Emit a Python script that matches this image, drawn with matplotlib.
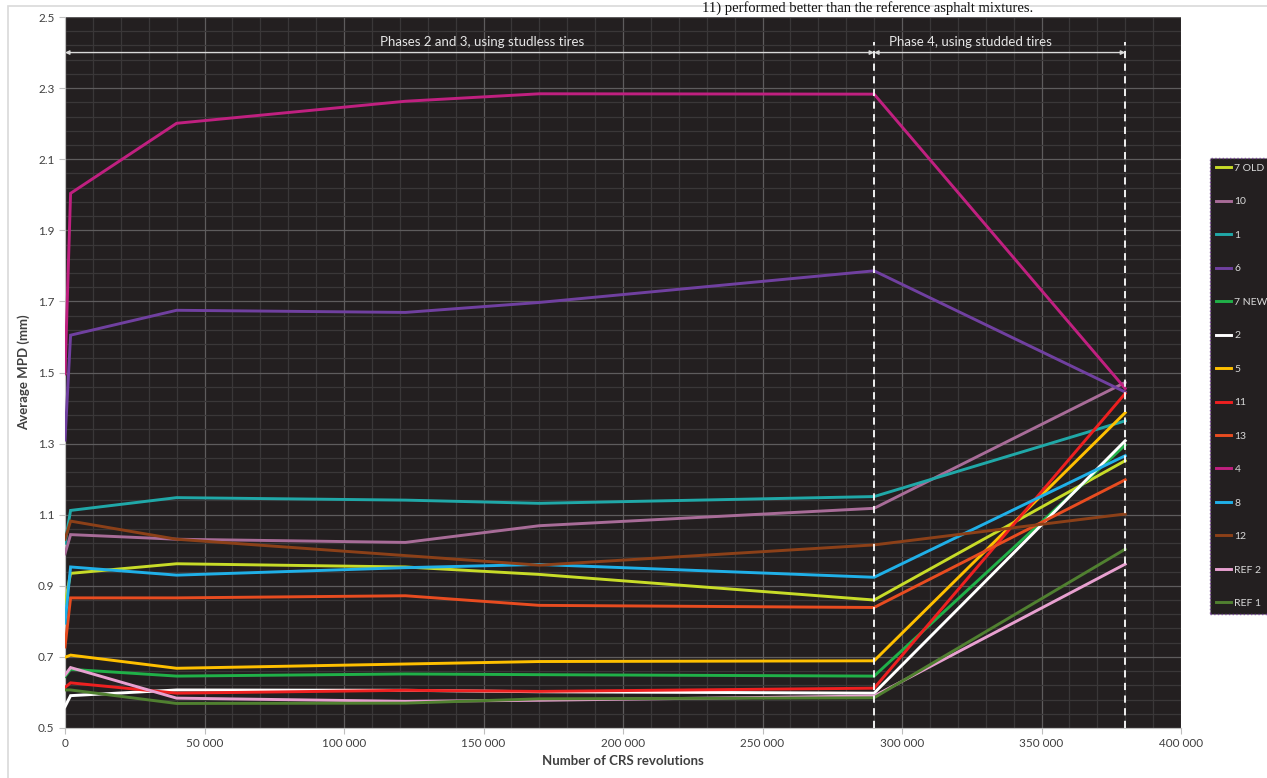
import matplotlib
matplotlib.use("Agg")
import numpy as np
import matplotlib.pyplot as plt
from matplotlib.patches import Rectangle
from matplotlib.ticker import MultipleLocator, FixedLocator, FuncFormatter

# CRS revolutions at each measurement
revs = [0, 2000, 40000, 122000, 170000, 290000, 380000]

# average MPD (mm) per mixture
mpd_7old = [0.85, 0.935, 0.962, 0.953, 0.932, 0.860, 1.252]
mpd_10 = [0.99, 1.044, 1.031, 1.022, 1.069, 1.118, 1.472]
mpd_1 = [1.02, 1.112, 1.148, 1.141, 1.132, 1.151, 1.364]
mpd_6 = [1.31, 1.605, 1.675, 1.669, 1.697, 1.786, 1.445]
mpd_7new = [0.645, 0.665, 0.646, 0.652, 0.650, 0.646, 1.296]
mpd_2 = [0.56, 0.591, 0.607, 0.606, 0.602, 0.598, 1.308]
mpd_5 = [0.699, 0.705, 0.668, 0.680, 0.687, 0.689, 1.387]
mpd_11 = [0.614, 0.627, 0.598, 0.606, 0.603, 0.612, 1.441]
mpd_13 = [0.728, 0.866, 0.866, 0.872, 0.845, 0.839, 1.198]
mpd_4 = [1.496, 2.004, 2.201, 2.263, 2.284, 2.283, 1.455]
mpd_8 = [0.795, 0.953, 0.930, 0.951, 0.960, 0.924, 1.266]
mpd_12 = [1.031, 1.082, 1.031, 0.985, 0.958, 1.015, 1.102]
mpd_ref2 = [0.649, 0.670, 0.584, 0.575, 0.578, 0.590, 0.961]
mpd_ref1 = [0.607, 0.607, 0.569, 0.570, 0.582, 0.585, 1.003]

labels = ["7 OLD", "10", "1", "6", "7 NEW", "2", "5", "11", "13", "4", "8", "12", "REF 2", "REF 1"]
colors = ["#c8dc28", "#a86c98", "#20a8a8", "#7040a0", "#20b048", "#ffffff", "#ffc000",
          "#ee2020", "#e84c20", "#c02080", "#20b0e8", "#8c4018", "#e8a0d0", "#508030"]
series = [mpd_7old, mpd_10, mpd_1, mpd_6, mpd_7new, mpd_2, mpd_5,
          mpd_11, mpd_13, mpd_4, mpd_8, mpd_12, mpd_ref2, mpd_ref1]

phase_split = 290000
phase_end = 380000

bg = "#231f20"
font = "Lato"

fig = plt.figure(figsize=(12.67, 7.78), dpi=100)
fig.patch.set_facecolor("white")
ax = fig.add_axes([65 / 1267, 50 / 778, 1116 / 1267, 711 / 778])
ax.set_facecolor(bg)

# outer chart frame
fig.add_artist(Rectangle((8 / 1267, -0.01), 1.02, 1 - 6 / 778 + 0.01, transform=fig.transFigure,
                         fill=False, edgecolor="#d9d9d9", lw=1.2, zorder=0))

# page text above the chart
fig.text(702 / 1267, 1 - 12 / 778, "11) performed better than the reference asphalt mixtures.",
         family="Liberation Serif", fontsize=10.5, color="#111111", va="baseline")

for vals, lab, col in zip(series, labels, colors):
    ax.plot(revs, vals, color=col, lw=2.1, label=lab, solid_joinstyle="miter", zorder=3)

ax.set_xlim(0, 400000)
ax.set_ylim(0.5, 2.5)
ax.xaxis.set_major_locator(MultipleLocator(50000))
ax.xaxis.set_minor_locator(MultipleLocator(10000))
ax.yaxis.set_major_locator(FixedLocator(np.arange(0.5, 2.51, 0.2)))
ax.yaxis.set_minor_locator(FixedLocator(np.arange(0.5, 2.51, 0.04)))
ax.xaxis.set_major_formatter(FuncFormatter(lambda v, p: f"{int(v):,}".replace(",", " ")))
ax.yaxis.set_major_formatter(FuncFormatter(lambda v, p: f"{v:.1f}"))
ax.grid(which="major", color="#5e5c5d", lw=0.9, zorder=0)
ax.grid(which="minor", color="#3a3738", lw=0.9, zorder=0)
ax.set_axisbelow(True)

for side in ["top", "right"]:
    ax.spines[side].set_visible(False)
for side in ["left", "bottom"]:
    ax.spines[side].set_color("#bfbfbf")
ax.tick_params(which="major", length=4, color="#bfbfbf", labelsize=8.5, labelcolor="#404040")
ax.tick_params(which="minor", length=0)
for t in ax.get_xticklabels() + ax.get_yticklabels():
    t.set_family(font)

ax.set_xlabel("Number of CRS revolutions", fontsize=9.5, fontweight="bold", family=font,
              color="#404040", labelpad=4)
ax.set_ylabel("Average MPD (mm)", fontsize=9.5, fontweight="bold", family=font,
              color="#404040", labelpad=6)

# phase boundaries
for xv in [phase_split, phase_end]:
    ax.plot([xv, xv], [0.5, 2.43], color="white", lw=1.3, ls=(0, (4, 3)), zorder=4)

arrow_kw = dict(arrowstyle="<|-|>", color="#d9d9d9", lw=1.0, mutation_scale=6,
                shrinkA=0, shrinkB=0)
ax.annotate("", xy=(0, 2.40), xytext=(phase_split, 2.40), arrowprops=arrow_kw, zorder=4)
ax.annotate("", xy=(phase_split, 2.40), xytext=(phase_end, 2.40), arrowprops=arrow_kw, zorder=4)
ax.text(149500, 2.413, "Phases 2 and 3, using studless tires", color="#e6e6e6",
        fontsize=9.5, family=font, ha="center", va="bottom")
ax.text(324700, 2.413, "Phase 4, using studded tires", color="#e6e6e6",
        fontsize=9.5, family=font, ha="center", va="bottom")

leg = fig.legend(loc="upper left", bbox_to_anchor=(1210 / 1267, 1 - 158 / 778),
                 frameon=True, facecolor=bg, framealpha=1, edgecolor="#7a4a9a",
                 handlelength=1.5, handletextpad=0.3, labelspacing=2.32,
                 borderpad=0.55, borderaxespad=0, prop={"family": font, "size": 7.5})
leg.get_frame().set_linestyle(":")
leg.get_frame().set_boxstyle("square", pad=0)
for t in leg.get_texts():
    t.set_color("#d9d9d9")

fig.savefig("out.png", dpi=100, facecolor="white")
